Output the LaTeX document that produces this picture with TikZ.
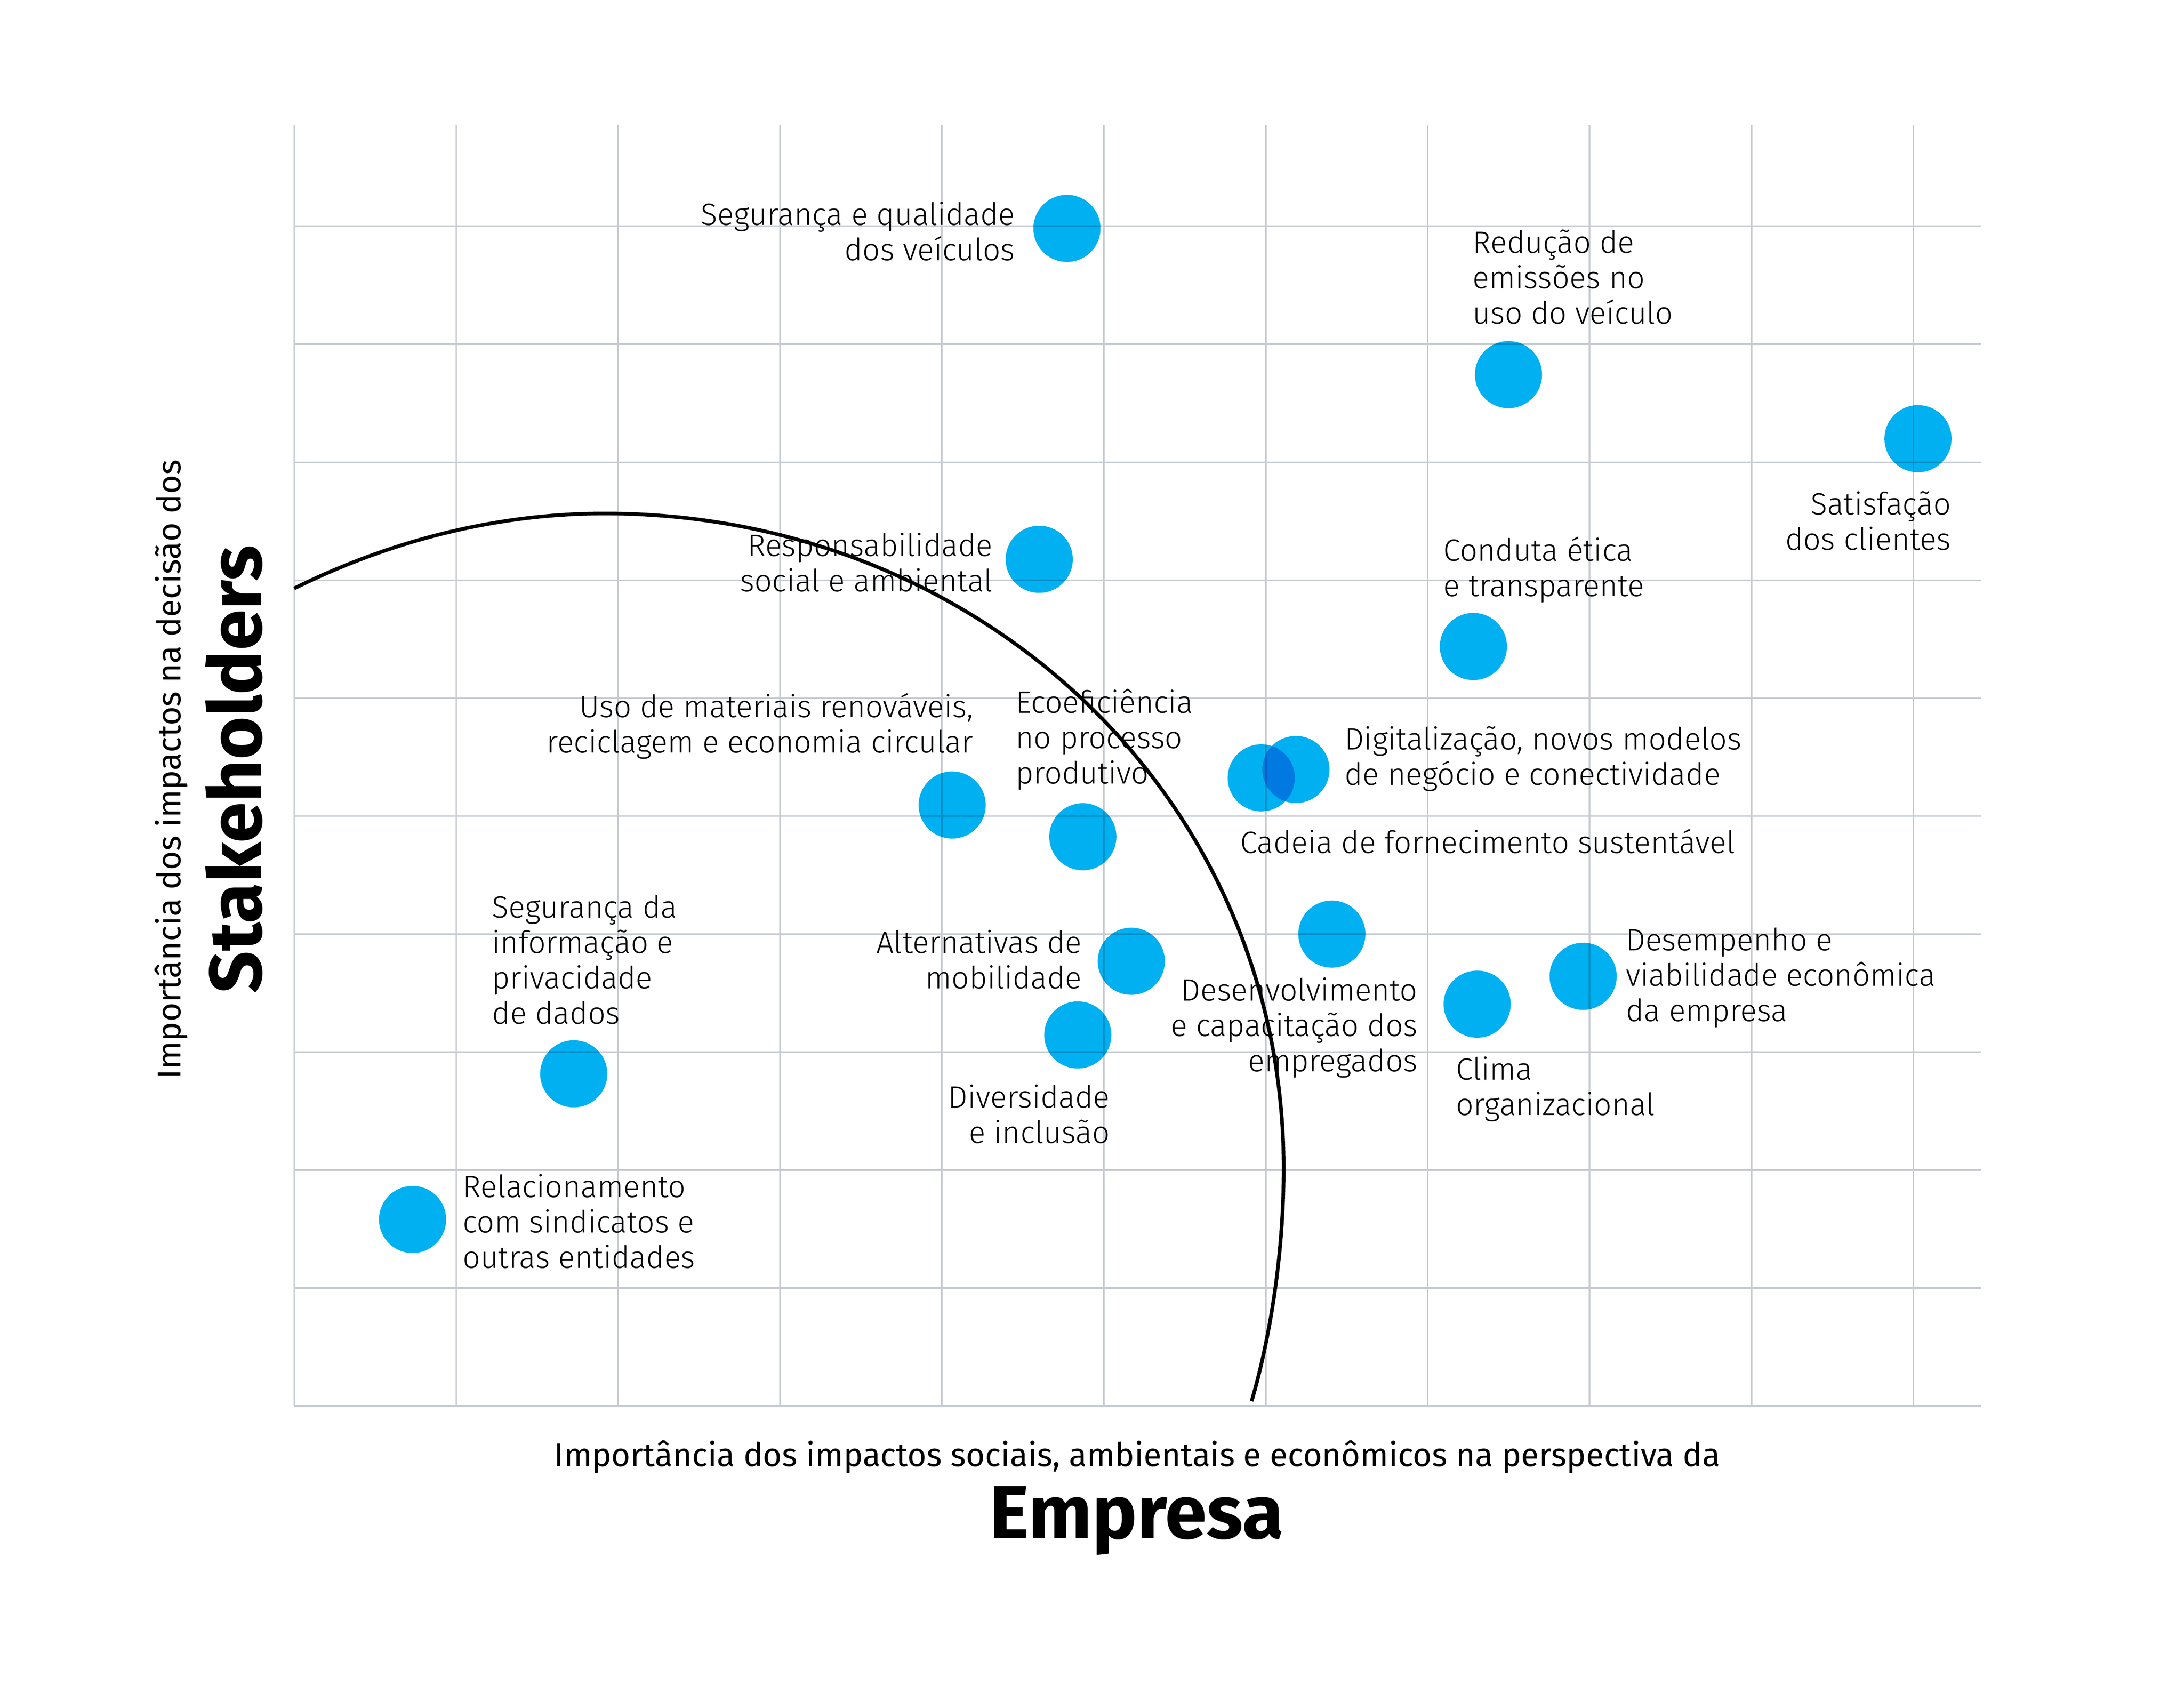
\documentclass[tikz,border=0pt]{standalone}
\usepackage{fontspec}
\setmainfont{Fira Sans Light}[BoldFont=Fira Sans Bold]
\newfontfamily\axisfont{Fira Sans}
\definecolor{vwblue}{HTML}{00B0F0}
\definecolor{gridgray}{HTML}{C6CBD1}
\newcommand{\lbl}{\fontsize{12.6}{14.46}\selectfont}
\newcommand{\axl}{\fontsize{13.4}{16}\selectfont}

\begin{document}
\begin{tikzpicture}[x=0.02cm, y=-0.02cm,
    gridline/.style={draw=gridgray, line width=0.65pt},
    axisline/.style={draw=gridgray, line width=1pt},
    arcline/.style={draw=black, line width=1.5pt},
    dot/.style={circle, fill=vwblue, minimum size=0.964cm, inner sep=0pt},
    lblr/.style={anchor=east, align=right, inner sep=0pt, font=\lbl},
    lbll/.style={anchor=west, align=left, inner sep=0pt, font=\lbl}]
    \useasboundingbox (0,0) rectangle (1568,1209.7);

    % Grid
    \draw[gridline] (211.2,89.8) -- (211.2,1009.5);
    \draw[gridline] (327.5,89.8) -- (327.5,1009.5);
    \draw[gridline] (443.7,89.8) -- (443.7,1009.5);
    \draw[gridline] (560.0,89.8) -- (560.0,1009.5);
    \draw[gridline] (676.2,89.8) -- (676.2,1009.5);
    \draw[gridline] (792.5,89.8) -- (792.5,1009.5);
    \draw[gridline] (908.7,89.8) -- (908.7,1009.5);
    \draw[gridline] (1025.0,89.8) -- (1025.0,1009.5);
    \draw[gridline] (1141.2,89.8) -- (1141.2,1009.5);
    \draw[gridline] (1257.5,89.8) -- (1257.5,1009.5);
    \draw[gridline] (1373.7,89.8) -- (1373.7,1009.5);

    \draw[gridline] (211.2,162.5) -- (1422,162.5);
    \draw[gridline] (211.2,247.2) -- (1422,247.2);
    \draw[gridline] (211.2,331.9) -- (1422,331.9);
    \draw[gridline] (211.2,416.6) -- (1422,416.6);
    \draw[gridline] (211.2,501.3) -- (1422,501.3);
    \draw[gridline] (211.2,586.0) -- (1422,586.0);
    \draw[gridline] (211.2,670.7) -- (1422,670.7);
    \draw[gridline] (211.2,755.4) -- (1422,755.4);
    \draw[gridline] (211.2,840.1) -- (1422,840.1);
    \draw[gridline] (211.2,924.8) -- (1422,924.8);
    \draw[axisline] (211.2,1009.5) -- (1422,1009.5);

    % Materiality curve
    \coordinate (arc-start) at (211.2,422.5);
    \coordinate (arc-top) at (434,368.7);
    \coordinate (arc-right) at (921.6,839);
    \coordinate (arc-end) at (898.6,1006.1);
    \draw[arcline] (arc-start) .. controls (280.2,388.3) and (356.5,368.7) .. (arc-top)
        .. controls (702.2,368.7) and (921.6,570.9) .. (arc-right)
        .. controls (921.6,900) and (912,960) .. (arc-end);

    % Topics
    \begin{scope}[blend mode=multiply]
    \node[dot] (seg-veic) at (766,164) {};
    \node[dot] (red-emis) at (1083,269) {};
    \node[dot] (satisf) at (1377,315) {};
    \node[dot] (resp-soc) at (746.1,401.6) {};
    \node[dot] (conduta) at (1057.8,464.2) {};
    \node[dot] (materiais) at (683.6,578) {};
    \node[dot] (ecoef) at (777.4,600.8) {};
    \node[dot] (cadeia) at (905.5,558.5) {};
    \node[dot] (digital) at (930.4,552.5) {};
    \node[dot] (desenv) at (956.2,670.7) {};
    \node[dot] (alternat) at (812.2,690.2) {};
    \node[dot] (divers) at (773.8,743.1) {};
    \node[dot] (clima) at (1060.5,721) {};
    \node[dot] (desemp) at (1136.6,701) {};
    \node[dot] (seg-info) at (411.9,771) {};
    \node[dot] (relac) at (296.2,875.6) {};
    \end{scope}

    % Labels
    \node[lblr] (seg-veic-txt) at (729,166) {Segurança e qualidade\\dos veículos};
    \node[lbll] (red-emis-txt) at (1057,199) {Redução de\\emissões no\\uso do veículo};
    \node[lblr] (satisf-txt) at (1401,374) {Satisfação\\dos clientes};
    \node[lblr] (resp-soc-txt) at (713,404) {Responsabilidade\\social e ambiental};
    \node[lbll] (conduta-txt) at (1036,409) {Conduta ética\\e transparente};
    \node[lblr] (materiais-txt) at (699,521.5) {Uso de materiais renováveis,\\reciclagem e economia circular};
    \node[lbll] (ecoef-txt) at (729,531) {Ecoeficiência\\no processo\\produtivo};
    \node[lbll] (digital-txt) at (965,545) {Digitalização, novos modelos\\de negócio e conectividade};
    \node[lbll] (cadeia-txt) at (890,604) {Cadeia de fornecimento sustentável};
    \node[lbll] (seg-info-txt) at (353,689) {Segurança da\\informação e\\privacidade\\de dados};
    \node[lblr] (alternat-txt) at (777,689) {Alternativas de\\mobilidade};
    \node[lblr] (desenv-txt) at (1018,738) {Desenvolvimento\\e capacitação dos\\empregados};
    \node[lbll] (desemp-txt) at (1167,702) {Desempenho e\\viabilidade econômica\\da empresa};
    \node[lbll] (clima-txt) at (1045,782) {Clima\\organizacional};
    \node[lblr] (divers-txt) at (797,800) {Diversidade\\e inclusão};
    \node[lbll] (relac-txt) at (332,877) {Relacionamento\\com sindicatos e\\outras entidades};

    % Axes
    \node[font=\axisfont\axl, inner sep=0pt] (x-title) at (816.5,1046) {Importância dos impactos sociais, ambientais e econômicos na perspectiva da};
    \node[font=\fontsize{30.8}{36}\bfseries, inner sep=0pt] (x-big) at (816,1092) {Empresa};
    \node[font=\axisfont\axl, inner sep=0pt, rotate=90] (y-title) at (123,552.5) {Importância dos impactos na decisão dos};
    \node[font=\fontsize{30.2}{36}\bfseries, inner sep=0pt, rotate=90] (y-big) at (168,552.5) {Stakeholders};

\end{tikzpicture}
\end{document}
